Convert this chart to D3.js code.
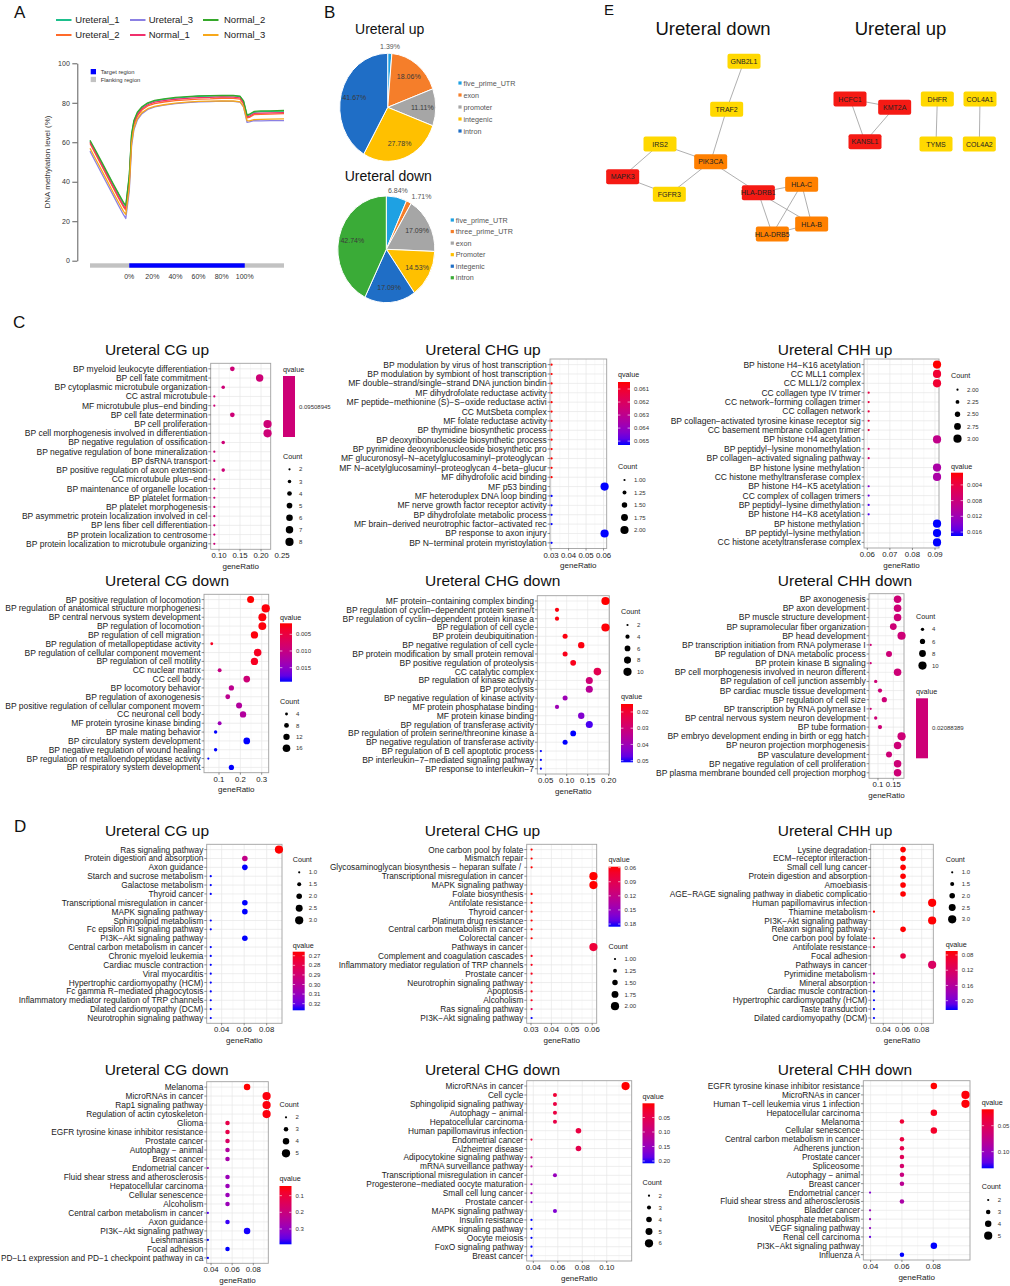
<!DOCTYPE html>
<html lang="en">
<head>
<meta charset="UTF-8">
<title>Methylation figure</title>
<style>
  html, body { margin: 0; padding: 0; background: #fff; }
  svg { display: block; }
</style>
</head>
<body>
<svg id="fig" width="1010" height="1286"></svg>
<script src="https://d3js.org/d3.v7.min.js"></script>
<script>
// ---------- panel A: methylation profile ----------
const binPos = [-34,-29,-24,-19,-14,-9,-5,-3,0,2,4,7,11,16,22,30,40,50,60,70,80,90,96,99,102,104,108,114,122,134];
const ureteral1 = [60.5,55.2,49.6,44.1,38.6,33.2,29.0,27.4,42.5,63.5,70.5,74.8,77.6,79.6,80.9,81.7,82.4,82.9,83.3,83.4,83.6,83.5,83.1,80.6,73.4,73.9,75.2,75.5,75.6,75.8];
const ureteral2 = [59.4,53.8,48.2,42.6,37.0,31.4,27.2,25.6,39.8,61.3,68.9,73.3,76.3,78.4,79.6,80.4,81.1,81.5,81.9,82.0,82.3,82.2,81.8,79.3,72.3,72.6,74.0,74.2,74.3,74.5];
const ureteral3 = [55.5,49.9,44.3,38.7,33.2,27.6,23.3,21.4,35.2,58.2,66.3,71.3,74.5,76.6,77.9,78.8,79.6,80.1,80.5,80.6,80.8,80.7,80.4,77.8,70.1,70.3,70.9,70.8,71.0,71.0];
const normal1 = [60.0,54.4,48.8,43.2,37.6,32.1,27.9,26.3,40.8,62.3,69.6,74.0,77.0,79.0,80.3,81.1,81.8,82.2,82.6,82.7,83.0,82.9,82.5,80.0,72.8,73.2,74.6,74.8,74.9,75.0];
const normal2 = [61.0,55.7,50.2,44.6,39.1,33.7,29.6,28.0,43.2,64.2,71.0,75.2,78.0,80.0,81.2,82.0,82.7,83.1,83.5,83.6,83.8,83.7,83.3,80.9,73.8,74.2,75.6,75.9,75.9,76.1];
const normal3 = [57.0,51.4,45.9,40.3,34.7,29.2,25.0,23.5,37.2,59.6,67.2,72.0,75.0,77.0,78.2,79.0,79.8,80.3,80.7,80.8,81.0,80.9,80.5,78.0,71.0,70.8,71.5,71.6,71.7,71.8];
const methNames = ["Ureteral_1","Ureteral_2","Ureteral_3","Normal_1","Normal_2","Normal_3"];
const methColors = ["#1dbf8c","#ff6a2a","#8b80e3","#f0306c","#35a82a","#f7a81b"];
const methYTicks = [0,20,40,60,80,100];
const methXTicks = [0,20,40,60,80,100];

// ---------- panel B: pies ----------
const upParts = ["five_prime_UTR","exon","promoter","integenic","intron"];
const upPct = [1.39,18.06,11.11,27.78,41.67];
const downParts = ["five_prime_UTR","three_prime_UTR","exon","Promoter","integenic","intron"];
const downPct = [6.84,1.71,17.09,14.53,17.09,42.74];
const pieColors = ["#1ea1e3","#f57e2a","#a6a6a6","#ffc000","#1f6ec6","#3aab37"];

// ---------- panel E: network ----------
const nodeNames = ["GNB2L1","TRAF2","IRS2","PIK3CA","MAPK3","FGFR3","HLA-DRB1","HLA-C","HLA-B","HLA-DRB5","HCFC1","KMT2A","KANSL1","DHFR","TYMS","COL4A1","COL4A2"];
const nodeLayoutX = [492,440,240,392,128,268,535,665,695,577,810,944,855,1072,1068,1200,1198];
const nodeLayoutY = [184,328,432,485,530,583,578,553,672,702,297,322,425,297,432,297,432];
const nodeLevel = ["low","low","low","mid","high","low","high","mid","mid","mid","high","high","high","low","low","low","low"];
const edgeFrom = ["GNB2L1","TRAF2","IRS2","IRS2","MAPK3","FGFR3","PIK3CA","HLA-DRB1","HLA-DRB1","HLA-DRB1","HLA-C","HLA-C","HLA-B","HCFC1","HCFC1","KMT2A","DHFR","COL4A1"];
const edgeTo = ["TRAF2","PIK3CA","PIK3CA","MAPK3","FGFR3","PIK3CA","HLA-DRB1","HLA-C","HLA-B","HLA-DRB5","HLA-B","HLA-DRB5","HLA-DRB5","KMT2A","KANSL1","KANSL1","TYMS","COL4A2"];
const levelColor = { high: "#f51a14", mid: "#ff8000", low: "#ffd800" };

// ---------- panel C: GO enrichment ----------
const cgUpGoTerms = ["BP myeloid leukocyte differentiation","BP cell fate commitment","BP cytoplasmic microtubule organization","CC astral microtubule","MF microtubule plus−end binding","BP cell fate determination","BP cell proliferation","BP cell morphogenesis involved in differentiation","BP negative regulation of ossification","BP negative regulation of bone mineralization","BP dsRNA transport","BP positive regulation of axon extension","CC microtubule plus−end","BP maintenance of organelle location","BP platelet formation","BP platelet morphogenesis","BP asymmetric protein localization involved in cel","BP lens fiber cell differentiation","BP protein localization to centrosome","BP protein localization to microtubule organizing"];
const cgUpGoRatio = [0.1317,0.1967,0.110,0.0888,0.0888,0.1317,0.2155,0.2155,0.110,0.0888,0.0888,0.110,0.0888,0.0888,0.0888,0.0888,0.0888,0.0888,0.0888,0.0888];
const cgUpGoCount = [4,7,3,2,2,4,8,8,3,2,2,3,2,2,2,2,2,2,2,2];
const cgUpGoQ = [0.09508945,0.09508945,0.09508945,0.09508945,0.09508945,0.09508945,0.09508945,0.09508945,0.09508945,0.09508945,0.09508945,0.09508945,0.09508945,0.09508945,0.09508945,0.09508945,0.09508945,0.09508945,0.09508945,0.09508945];

const chgUpGoTerms = ["BP modulation by virus of host transcription","BP modulation by symbiont of host transcription","MF double−strand/single−strand DNA junction bindin","MF dihydrofolate reductase activity","MF peptide−methionine (S)−S−oxide reductase activi","CC MutSbeta complex","MF folate reductase activity","BP thymidine biosynthetic process","BP deoxyribonucleoside biosynthetic process","BP pyrimidine deoxyribonucleoside biosynthetic pro","MF glucuronosyl−N−acetylglucosaminyl−proteoglycan ","MF N−acetylglucosaminyl−proteoglycan 4−beta−glucur","MF dihydrofolic acid binding","MF p53 binding","MF heteroduplex DNA loop binding","MF nerve growth factor receptor activity","BP dihydrofolate metabolic process","MF brain−derived neurotrophic factor−activated rec","BP response to axon injury","BP N−terminal protein myristoylation"];
const chgUpGoRatio = [0.0303,0.0303,0.0303,0.0303,0.0303,0.0303,0.0303,0.0303,0.0303,0.0303,0.0303,0.0303,0.0303,0.0606,0.0303,0.0303,0.0303,0.0303,0.0606,0.0303];
const chgUpGoCount = [1,1,1,1,1,1,1,1,1,1,1,1,1,2,1,1,1,1,2,1];
const chgUpGoQ = [0.06046,0.06046,0.06046,0.06046,0.06046,0.06046,0.06046,0.06046,0.06046,0.06046,0.06046,0.06046,0.06046,0.0653,0.0653,0.0653,0.0653,0.0653,0.0653,0.0653];

const chhUpGoTerms = ["BP histone H4−K16 acetylation","CC MLL1 complex","CC MLL1/2 complex","CC collagen type IV trimer","CC network−forming collagen trimer","CC collagen network","BP collagen−activated tyrosine kinase receptor sig","CC basement membrane collagen trimer","BP histone H4 acetylation","BP peptidyl−lysine monomethylation","BP collagen−activated signaling pathway","BP histone lysine methylation","CC histone methyltransferase complex","BP histone H4−K5 acetylation","CC complex of collagen trimers","BP peptidyl−lysine dimethylation","BP histone H4−K8 acetylation","BP histone methylation","BP peptidyl−lysine methylation","CC histone acetyltransferase complex"];
const chhUpGoRatio = [0.0909,0.0909,0.0909,0.0606,0.0606,0.0606,0.0606,0.0606,0.0909,0.0606,0.0606,0.0909,0.0909,0.0606,0.0606,0.0606,0.0606,0.0909,0.0909,0.0909];
const chhUpGoCount = [3,3,3,2,2,2,2,2,3,2,2,3,3,2,2,2,2,3,3,3];
const chhUpGoQ = [0.0009,0.003,0.003,0.004,0.004,0.004,0.004,0.004,0.009,0.007,0.007,0.011,0.011,0.014,0.015,0.016,0.016,0.017,0.017,0.017];

const cgDownGoTerms = ["BP positive regulation of locomotion","BP regulation of anatomical structure morphogenesi","BP central nervous system development","BP regulation of locomotion","BP regulation of cell migration","BP regulation of metallopeptidase activity","BP regulation of cellular component movement","BP regulation of cell motility","CC nuclear matrix","CC cell body","BP locomotory behavior","BP regulation of axonogenesis","BP positive regulation of cellular component movem","CC neuronal cell body","MF protein tyrosine kinase binding","BP male mating behavior","BP circulatory system development","BP negative regulation of wound healing","BP regulation of metalloendopeptidase activity","BP respiratory system development"];
const cgDownGoRatio = [0.248,0.319,0.303,0.303,0.266,0.066,0.281,0.266,0.103,0.230,0.158,0.141,0.194,0.2125,0.103,0.084,0.230,0.084,0.050,0.158];
const cgDownGoCount = [14,18,17,17,15,4,16,15,6,13,9,8,11,12,6,5,13,5,3,9];
const cgDownGoQ = [0.0017,0.002,0.002,0.002,0.002,0.003,0.003,0.003,0.010,0.009,0.011,0.011,0.012,0.012,0.014,0.0192,0.0192,0.0192,0.0192,0.0192];

const chgDownGoTerms = ["MF protein−containing complex binding","BP regulation of cyclin−dependent protein serine/t","BP regulation of cyclin−dependent protein kinase a","BP regulation of cell cycle","BP protein deubiquitination","BP negative regulation of cell cycle","BP protein modification by small protein removal","BP positive regulation of proteolysis","CC catalytic complex","BP regulation of kinase activity","BP proteolysis","BP negative regulation of kinase activity","MF protein phosphatase binding","MF protein kinase binding","BP regulation of transferase activity","BP regulation of protein serine/threonine kinase a","BP negative regulation of transferase activity","BP regulation of B cell apoptotic process","BP interleukin−7−mediated signaling pathway","BP response to interleukin−7"];
const chgDownGoRatio = [0.1923,0.0769,0.0769,0.1923,0.0962,0.1346,0.0962,0.1154,0.1731,0.1538,0.1538,0.0962,0.0769,0.1346,0.1538,0.1154,0.0962,0.0385,0.0385,0.0385];
const chgDownGoCount = [10,4,4,10,5,7,5,6,9,8,8,5,4,7,8,6,5,2,2,2];
const chgDownGoQ = [0.0151,0.016,0.016,0.0155,0.016,0.016,0.017,0.017,0.024,0.030,0.035,0.040,0.040,0.044,0.049,0.051,0.051,0.051,0.051,0.051];

const chhDownGoTerms = ["BP axonogenesis","BP axon development","BP muscle structure development","BP supramolecular fiber organization","BP head development","BP transcription initiation from RNA polymerase I","BP regulation of DNA metabolic process","BP protein kinase B signaling","BP cell morphogenesis involved in neuron different","BP regulation of cell junction assembly","BP cardiac muscle tissue development","BP regulation of cell size","BP transcription by RNA polymerase I","BP central nervous system neuron development","BP tube formation","BP embryo development ending in birth or egg hatch","BP neuron projection morphogenesis","BP vasculature development","BP negative regulation of cell proliferation","BP plasma membrane bounded cell projection morphog"];
const chhDownGoRatio = [0.164,0.164,0.164,0.150,0.177,0.0761,0.136,0.0761,0.164,0.0925,0.1065,0.1207,0.0761,0.0925,0.1065,0.177,0.164,0.136,0.164,0.164];
const chhDownGoCount = [9,9,9,8,10,3,7,3,9,4,5,6,3,4,5,10,9,7,9,9];
const chhDownGoQ = [0.02088389,0.02088389,0.02088389,0.02088389,0.02088389,0.02088389,0.02088389,0.02088389,0.02088389,0.02088389,0.02088389,0.02088389,0.02088389,0.02088389,0.02088389,0.02088389,0.02088389,0.02088389,0.02088389,0.02088389];

// ---------- panel D: KEGG enrichment ----------
const cgUpKeggTerms = ["Ras signaling pathway","Protein digestion and absorption","Axon guidance","Starch and sucrose metabolism","Galactose metabolism","Thyroid cancer","Transcriptional misregulation in cancer","MAPK signaling pathway","Sphingolipid metabolism","Fc epsilon RI signaling pathway","PI3K−Akt signaling pathway","Central carbon metabolism in cancer","Chronic myeloid leukemia","Cardiac muscle contraction","Viral myocarditis","Hypertrophic cardiomyopathy (HCM)","Fc gamma R−mediated phagocytosis","Inflammatory mediator regulation of TRP channels","Dilated cardiomyopathy (DCM)","Neurotrophin signaling pathway"];
const cgUpKeggRatio = [0.0909,0.0606,0.0606,0.0303,0.0303,0.0303,0.0606,0.0606,0.0303,0.0303,0.0606,0.0303,0.0303,0.0303,0.0303,0.0303,0.0303,0.0303,0.0303,0.0303];
const cgUpKeggCount = [3,2,2,1,1,1,2,2,1,1,2,1,1,1,1,1,1,1,1,1];
const cgUpKeggQ = [0.2658,0.296,0.3269,0.3269,0.3269,0.3269,0.3269,0.3269,0.3269,0.3269,0.3269,0.3269,0.3269,0.3269,0.3269,0.3269,0.3269,0.3269,0.3269,0.3269];

const chgUpKeggTerms = ["One carbon pool by folate","Mismatch repair","Glycosaminoglycan biosynthesis − heparan sulfate / ","Transcriptional misregulation in cancer","MAPK signaling pathway","Folate biosynthesis","Antifolate resistance","Thyroid cancer","Platinum drug resistance","Central carbon metabolism in cancer","Colorectal cancer","Pathways in cancer","Complement and coagulation cascades","Inflammatory mediator regulation of TRP channels","Prostate cancer","Neurotrophin signaling pathway","Apoptosis","Alcoholism","Ras signaling pathway","PI3K−Akt signaling pathway"];
const chgUpKeggRatio = [0.0303,0.0303,0.0303,0.0606,0.0606,0.0303,0.0303,0.0303,0.0303,0.0303,0.0303,0.0606,0.0303,0.0303,0.0303,0.0303,0.0303,0.0303,0.0303,0.0303];
const chgUpKeggCount = [1,1,1,2,2,1,1,1,1,1,1,2,1,1,1,1,1,1,1,1];
const chgUpKeggQ = [0.058,0.058,0.058,0.058,0.058,0.058,0.058,0.058,0.058,0.058,0.058,0.078,0.065,0.065,0.065,0.065,0.065,0.065,0.092,0.1857];

const chhUpKeggTerms = ["Lysine degradation","ECM−receptor interaction","Small cell lung cancer","Protein digestion and absorption","Amoebiasis","AGE−RAGE signaling pathway in diabetic complicatio","Human papillomavirus infection","Thiamine metabolism","PI3K−Akt signaling pathway","Relaxin signaling pathway","One carbon pool by folate","Antifolate resistance","Focal adhesion","Pathways in cancer","Pyrimidine metabolism","Mineral absorption","Cardiac muscle contraction","Hypertrophic cardiomyopathy (HCM)","Taste transduction","Dilated cardiomyopathy (DCM)"];
const chhUpKeggRatio = [0.0606,0.0606,0.0606,0.0606,0.0606,0.0606,0.0909,0.0303,0.0909,0.0606,0.0303,0.0303,0.0606,0.0909,0.0303,0.0303,0.0303,0.0303,0.0303,0.0303];
const chhUpKeggCount = [2,2,2,2,2,2,3,1,3,2,1,1,2,3,1,1,1,1,1,1];
const chhUpKeggQ = [0.0695,0.07,0.07,0.07,0.07,0.07,0.07,0.07,0.07,0.07,0.09,0.10,0.10,0.12,0.15,0.175,0.2245,0.2245,0.2245,0.2245];

const cgDownKeggTerms = ["Melanoma","MicroRNAs in cancer","Rap1 signaling pathway","Regulation of actin cytoskeleton","Glioma","EGFR tyrosine kinase inhibitor resistance","Prostate cancer","Autophagy − animal","Breast cancer","Endometrial cancer","Fluid shear stress and atherosclerosis","Hepatocellular carcinoma","Cellular senescence","Alcoholism","Central carbon metabolism in cancer","Axon guidance","PI3K−Akt signaling pathway","Leishmaniasis","Focal adhesion","PD−L1 expression and PD−1 checkpoint pathway in ca"];
const cgDownKeggRatio = [0.0741,0.0926,0.0926,0.0926,0.0556,0.0556,0.0556,0.0556,0.0556,0.0370,0.0556,0.0556,0.0556,0.0556,0.0370,0.0556,0.0741,0.0370,0.0556,0.0370];
const cgDownKeggCount = [4,5,5,5,3,3,3,3,3,2,3,3,3,3,2,3,4,2,3,2];
const cgDownKeggQ = [0.042,0.05,0.05,0.05,0.12,0.12,0.16,0.25,0.27,0.28,0.29,0.29,0.29,0.29,0.37,0.38,0.39,0.392,0.392,0.392];

const chgDownKeggTerms = ["MicroRNAs in cancer","Cell cycle","Sphingolipid signaling pathway","Autophagy − animal","Hepatocellular carcinoma","Human papillomavirus infection","Endometrial cancer","Alzheimer disease","Adipocytokine signaling pathway","mRNA surveillance pathway","Transcriptional misregulation in cancer","Progesterone−mediated oocyte maturation","Small cell lung cancer","Prostate cancer","MAPK signaling pathway","Insulin resistance","AMPK signaling pathway","Oocyte meiosis","FoxO signaling pathway","Breast cancer"];
const chgDownKeggRatio = [0.1154,0.0577,0.0577,0.0577,0.0577,0.0769,0.0385,0.0769,0.0385,0.0385,0.0577,0.0385,0.0385,0.0385,0.0577,0.0385,0.0385,0.0385,0.0385,0.0385];
const chgDownKeggCount = [6,3,3,3,3,4,2,4,2,2,3,2,2,2,3,2,2,2,2,2];
const chgDownKeggQ = [0.001,0.03,0.04,0.04,0.045,0.04,0.045,0.05,0.10,0.12,0.15,0.14,0.14,0.17,0.17,0.208,0.208,0.208,0.208,0.208];

const chhDownKeggTerms = ["EGFR tyrosine kinase inhibitor resistance","MicroRNAs in cancer","Human T−cell leukemia virus 1 infection","Hepatocellular carcinoma","Melanoma","Cellular senescence","Central carbon metabolism in cancer","Adherens junction","Prostate cancer","Spliceosome","Autophagy − animal","Breast cancer","Endometrial cancer","Fluid shear stress and atherosclerosis","Bladder cancer","Inositol phosphate metabolism","VEGF signaling pathway","Renal cell carcinoma","PI3K−Akt signaling pathway","Influenza A"];
const chhDownKeggRatio = [0.0804,0.1006,0.1006,0.0804,0.0600,0.0804,0.0600,0.0600,0.0600,0.0600,0.0600,0.0600,0.0396,0.0600,0.0396,0.0396,0.0396,0.0396,0.0804,0.0600];
const chhDownKeggCount = [4,5,5,4,3,4,3,3,3,3,3,3,2,3,2,2,2,2,4,3];
const chhDownKeggQ = [0.0185,0.02,0.02,0.025,0.035,0.03,0.04,0.045,0.05,0.06,0.07,0.08,0.11,0.09,0.10,0.10,0.105,0.12,0.132,0.132];

// ---------- setup ----------
const FONT = '"Liberation Sans", Arial, Helvetica, sans-serif';
const svg = d3.select("#fig").attr("font-family", FONT);
const redBlue = d3.interpolateLab("#ff0000", "#0000ff");

function label(g, x, y, s, size, anchor, fill) {
  return g.append("text").attr("x", x).attr("y", y)
    .attr("font-size", size).attr("text-anchor", anchor || "start")
    .attr("fill", fill || "#111").text(s);
}

// panel letters
[["A", 14, 18], ["B", 324, 18], ["C", 13, 328], ["D", 14, 832], ["E", 604, 15]].forEach(d => {
  label(svg, d[1], d[2], d[0], d[0] === "E" ? 15 : 17);
});

// ---------- A ----------
(function drawA() {
  const g = svg.append("g");
  const x = d3.scaleLinear().domain([-34, 134]).range([90, 284]);
  const y = d3.scaleLinear().domain([0, 100]).range([260.7, 63.3]);

  const yAxis = g.append("g").attr("transform", "translate(77.3,0)")
    .call(d3.axisLeft(y).tickValues(methYTicks).tickSize(5).tickSizeOuter(0).tickPadding(2.5));
  yAxis.select(".domain").attr("stroke", "#333").attr("stroke-width", 0.8);
  yAxis.selectAll(".tick line").attr("stroke", "#333").attr("stroke-width", 0.8);
  yAxis.selectAll("text").attr("font-size", 7).attr("font-family", FONT).attr("fill", "#333");

  g.append("text").attr("transform", "translate(50,162) rotate(-90)")
    .attr("text-anchor", "middle").attr("font-size", 8).attr("fill", "#333")
    .text("DNA methylation level (%)");

  // region bar
  g.append("rect").attr("x", x(-34)).attr("y", 263.3).attr("width", x(134) - x(-34)).attr("height", 4.4).attr("fill", "#c2c2c2");
  g.append("rect").attr("x", x(0)).attr("y", 263.3).attr("width", x(100) - x(0)).attr("height", 4.4).attr("fill", "#0000ff");
  methXTicks.forEach(t => label(g, x(t), 278.5, t + "%", 7, "middle", "#333"));

  // inner legend
  g.append("rect").attr("x", 90.7).attr("y", 69).attr("width", 5.3).attr("height", 5.3).attr("fill", "#0000ff");
  g.append("rect").attr("x", 90.7).attr("y", 76.8).attr("width", 5.3).attr("height", 5.3).attr("fill", "#c2c2c2");
  label(g, 100.7, 73.8, "Target region", 5.8, "start", "#333");
  label(g, 100.7, 81.5, "Flanking region", 5.8, "start", "#333");

  const line = d3.line().x((d, i) => x(binPos[i])).y(d => y(d));
  const series = [ureteral1, ureteral2, ureteral3, normal1, normal2, normal3];
  series.forEach((vals, k) => {
    g.append("path").attr("d", line(vals)).attr("fill", "none")
      .attr("stroke", methColors[k]).attr("stroke-width", 1.3).attr("stroke-linejoin", "round");
  });

  // top legend (column-major)
  const colSw = [56, 130, 203], colTx = [75.3, 148.7, 224], rowY = [20, 35];
  methNames.forEach((n, k) => {
    const c = Math.floor(k / 2), r = k % 2;
    g.append("line").attr("x1", colSw[c]).attr("x2", colSw[c] + 15.5).attr("y1", rowY[r]).attr("y2", rowY[r])
      .attr("stroke", methColors[k]).attr("stroke-width", 2);
    label(g, colTx[c], rowY[r] + 3.4, n, 9.5, "start", "#222");
  });
})();

// ---------- B ----------
function drawPie(parts, pct, cx, cy, r, sy, title, titleY, legX, legY0, legStep) {
  const g = svg.append("g");
  label(g, cx + 2, titleY, title, 14, "middle", "#111");
  const arcs = d3.pie().sort(null).value(d => d)(pct);
  const arc = d3.arc().innerRadius(0).outerRadius(r);
  const pg = g.append("g").attr("transform", `translate(${cx},${cy}) scale(1,${sy})`);
  pg.selectAll("path").data(arcs).join("path").attr("d", arc)
    .attr("fill", (d, i) => pieColors[i]).attr("stroke", "#fff").attr("stroke-width", 1)
    .attr("vector-effect", "non-scaling-stroke");
  arcs.forEach((a, i) => {
    const outside = pct[i] < 8;
    const rr = outside ? r * 1.12 : r * 0.72;
    const c = d3.arc().innerRadius(rr).outerRadius(rr).centroid(a);
    const anchor = outside && c[0] > 15 ? "start" : "middle";
    label(g, cx + c[0], cy + c[1] * sy + 2.4, pct[i].toFixed(2) + "%", 7, anchor, outside ? "#555" : "#3a3a3a");
  });
  parts.forEach((p, i) => {
    const yy = legY0 + i * legStep;
    g.append("rect").attr("x", legX - 1.6).attr("y", yy - 1.6).attr("width", 3.2).attr("height", 3.2).attr("fill", pieColors[i]);
    label(g, legX + 3.5, yy + 2.5, p, 7.2, "start", "#555");
  });
}
drawPie(upParts, upPct, 387.7, 107.3, 48, 1.125, "Ureteral up", 34, 460, 83, 12);
drawPie(downParts, downPct, 386.3, 249.3, 48.5, 1.1, "Ureteral down", 180.7, 452.3, 220, 11.55);

// ---------- E ----------
(function drawE() {
  const g = svg.append("g");
  const nx = d3.scaleLinear().domain([0, 1290]).range([580, 1010]);
  const ny = d3.scaleLinear().domain([0, 900]).range([0, 300]);
  label(g, 713, 35, "Ureteral down", 18.5, "middle", "#111");
  label(g, 900.5, 35, "Ureteral up", 18.5, "middle", "#111");
  const pos = {};
  nodeNames.forEach((n, i) => { pos[n] = [nx(nodeLayoutX[i]), ny(nodeLayoutY[i])]; });
  edgeFrom.forEach((s, i) => {
    const a = pos[s], b = pos[edgeTo[i]];
    g.append("line").attr("x1", a[0]).attr("y1", a[1]).attr("x2", b[0]).attr("y2", b[1])
      .attr("stroke", "#9a9a9a").attr("stroke-width", 0.8);
  });
  nodeNames.forEach((n, i) => {
    const p = pos[n];
    g.append("rect").attr("x", p[0] - 16.5).attr("y", p[1] - 7.5).attr("width", 33).attr("height", 15)
      .attr("rx", 2).attr("fill", levelColor[nodeLevel[i]]);
    label(g, p[0], p[1] + 2.5, n, 7, "middle", "#222");
  });
})();

// ---------- dot plots ----------
let gradId = 0;
function drawDot(p) {
  const g = svg.append("g");
  const [x0, y0, x1, y1] = p.box;
  const x = d3.scaleLinear().domain(p.xDom).range([x0, x1]);
  const y = d3.scalePoint().domain(d3.range(p.terms.length)).range([y0, y1]).padding(0.6);
  const qExt = d3.extent(p.q);
  const single = qExt[0] === qExt[1];
  const qt = d3.scaleLinear().domain(qExt).range([0, 1]);
  const color = v => redBlue(single ? 0.42 : qt(v));
  const size = d3.scaleSqrt().domain(d3.extent(p.count)).range([1.1, 4.1]);

  g.append("rect").attr("x", x0).attr("y", y0).attr("width", x1 - x0).attr("height", y1 - y0).attr("fill", "#fff");
  // minor grid
  const step = p.xTicks[1] - p.xTicks[0];
  const minors = [p.xTicks[0] - step / 2].concat(p.xTicks.map(t => t + step / 2));
  minors.filter(t => t > p.xDom[0] && t < p.xDom[1]).forEach(t => {
    g.append("line").attr("x1", x(t)).attr("x2", x(t)).attr("y1", y0).attr("y2", y1)
      .attr("stroke", "#f2f2f2").attr("stroke-width", 0.5);
  });
  p.xTicks.filter(t => t >= p.xDom[0] && t <= p.xDom[1]).forEach(t => {
    g.append("line").attr("x1", x(t)).attr("x2", x(t)).attr("y1", y0).attr("y2", y1)
      .attr("stroke", "#e6e6e6").attr("stroke-width", 0.7);
  });
  p.terms.forEach((t, i) => {
    g.append("line").attr("x1", x0).attr("x2", x1).attr("y1", y(i)).attr("y2", y(i))
      .attr("stroke", "#e6e6e6").attr("stroke-width", 0.7);
  });
  g.append("rect").attr("x", x0).attr("y", y0).attr("width", x1 - x0).attr("height", y1 - y0)
    .attr("fill", "none").attr("stroke", "#a0a0a0").attr("stroke-width", 0.9);

  p.terms.forEach((t, i) => {
    g.append("circle").attr("cx", x(p.ratio[i])).attr("cy", y(i)).attr("r", size(p.count[i]))
      .attr("fill", color(p.q[i]));
    g.append("line").attr("x1", x0 - 2.4).attr("x2", x0).attr("y1", y(i)).attr("y2", y(i))
      .attr("stroke", "#444").attr("stroke-width", 0.6);
    label(g, x0 - 3.3, y(i) + 3, t, p.fs, "end", "#1a1a1a").attr("xml:space", "preserve");
  });

  const fmt = d3.format(p.xFmt);
  p.xTicks.forEach(t => {
    if (t >= p.xDom[0] && t <= p.xDom[1]) {
      g.append("line").attr("x1", x(t)).attr("x2", x(t)).attr("y1", y1).attr("y2", y1 + 2)
        .attr("stroke", "#444").attr("stroke-width", 0.6);
    }
    label(g, x(t), y1 + 9, fmt(t), 7.8, "middle", "#1a1a1a");
  });
  label(g, (x0 + x1) / 2, y1 + 19.5, "geneRatio", 8, "middle", "#1a1a1a");
  label(g, p.tx, p.ty, p.title, 15.5, "middle", "#111");

  // qvalue legend
  const lx = p.lx;
  label(g, lx, p.qy + 2.5, "qvalue", 7.2, "start", "#222");
  const [b0, b1] = p.bar;
  if (single) {
    g.append("rect").attr("x", lx).attr("y", b0).attr("width", 12).attr("height", b1 - b0).attr("fill", redBlue(0.42));
    label(g, lx + 16, (b0 + b1) / 2 + 2.1, p.qLabel, 6, "start", "#333");
  } else {
    const id = "qgrad" + (gradId++);
    const grad = svg.append("defs").append("linearGradient").attr("id", id)
      .attr("x1", 0).attr("y1", 0).attr("x2", 0).attr("y2", 1);
    d3.range(0, 1.0001, 0.1).forEach(t => grad.append("stop").attr("offset", t).attr("stop-color", redBlue(t)));
    g.append("rect").attr("x", lx).attr("y", b0).attr("width", 12).attr("height", b1 - b0).attr("fill", `url(#${id})`);
    const qs = d3.scaleLinear().domain(qExt).range([b0, b1]);
    const qf = d3.format(p.qFmt);
    p.qTicks.forEach(t => {
      const yy = qs(t);
      g.append("line").attr("x1", lx).attr("x2", lx + 2.4).attr("y1", yy).attr("y2", yy).attr("stroke", "#fff").attr("stroke-width", 0.6);
      g.append("line").attr("x1", lx + 9.6).attr("x2", lx + 12).attr("y1", yy).attr("y2", yy).attr("stroke", "#fff").attr("stroke-width", 0.6);
      label(g, lx + 16, yy + 2.1, qf(t), 6, "start", "#333");
    });
  }
  // count legend
  label(g, lx, p.cy + 2.5, "Count", 7.2, "start", "#222");
  const cf = d3.format(p.cFmt);
  p.cTicks.forEach((c, i) => {
    const yy = p.c0 + i * p.cStep;
    g.append("circle").attr("cx", lx + 6.5).attr("cy", yy).attr("r", size(c)).attr("fill", "#000");
    label(g, lx + 16, yy + 2.1, cf(c), 6, "start", "#333");
  });
}

const dotPanels = [
  { title: "Ureteral CG up", tx: 157, ty: 355, terms: cgUpGoTerms, ratio: cgUpGoRatio, count: cgUpGoCount, q: cgUpGoQ, fs: 8.5,
    box: [210.7, 363.3, 270.7, 549.3], xDom: [0.0802, 0.223], xTicks: [0.10, 0.15, 0.20, 0.25], xFmt: ".2f",
    lx: 283, qy: 369, bar: [376, 437], qLabel: "0.09508945",
    cy: 456, c0: 469.3, cStep: 12.1, cTicks: [2, 3, 4, 5, 6, 7, 8], cFmt: "d" },
  { title: "Ureteral CHG up", tx: 483, ty: 355, terms: chgUpGoTerms, ratio: chgUpGoRatio, count: chgUpGoCount, q: chgUpGoQ, fs: 8.5,
    box: [550, 359, 606.7, 548.5], xDom: [0.0294, 0.0618], xTicks: [0.03, 0.04, 0.05, 0.06], xFmt: ".2f",
    lx: 618, qy: 374, bar: [382, 445], qTicks: [0.061, 0.062, 0.063, 0.064, 0.065], qFmt: ".3f",
    cy: 466, c0: 480, cStep: 12.5, cTicks: [1, 1.25, 1.5, 1.75, 2], cFmt: ".2f" },
  { title: "Ureteral CHH up", tx: 835, ty: 355, terms: chhUpGoTerms, ratio: chhUpGoRatio, count: chhUpGoCount, q: chhUpGoQ, fs: 8.5,
    box: [864, 359, 939, 548], xDom: [0.05854, 0.09177], xTicks: [0.06, 0.07, 0.08, 0.09], xFmt: ".2f",
    lx: 951, qy: 466, bar: [472.7, 536], qTicks: [0.004, 0.008, 0.012, 0.016], qFmt: ".3f",
    cy: 375.7, c0: 389.7, cStep: 12.25, cTicks: [2, 2.25, 2.5, 2.75, 3], cFmt: ".2f" },
  { title: "Ureteral CG down", tx: 167, ty: 586, terms: cgDownGoTerms, ratio: cgDownGoRatio, count: cgDownGoCount, q: cgDownGoQ, fs: 8.5,
    box: [204, 594.3, 268.7, 772.7], xDom: [0.0297, 0.3328], xTicks: [0.1, 0.2, 0.3], xFmt: ".1f",
    lx: 280, qy: 617, bar: [623.3, 681.7], qTicks: [0.005, 0.010, 0.015], qFmt: ".3f",
    cy: 701, c0: 714, cStep: 11.4, cTicks: [4, 8, 12, 16], cFmt: "d" },
  { title: "Ureteral CHG down", tx: 492.7, ty: 586, terms: chgDownGoTerms, ratio: chgDownGoRatio, count: chgDownGoCount, q: chgDownGoQ, fs: 8.5,
    box: [537.3, 595.7, 609.3, 774], xDom: [0.03, 0.2014], xTicks: [0.05, 0.10, 0.15, 0.20], xFmt: ".2f",
    lx: 621, qy: 696.7, bar: [704, 762.3], qTicks: [0.02, 0.03, 0.04, 0.05], qFmt: ".2f",
    cy: 611.7, c0: 625, cStep: 11.7, cTicks: [2, 4, 6, 8, 10], cFmt: "d" },
  { title: "Ureteral CHH down", tx: 845, ty: 586, terms: chhDownGoTerms, ratio: chhDownGoRatio, count: chhDownGoCount, q: chhDownGoQ, fs: 8.5,
    box: [869, 593.7, 904, 778.3], xDom: [0.0706, 0.185], xTicks: [0.1, 0.15], xFmt: ".2~f",
    lx: 916, qy: 691, bar: [698.3, 758.3], qLabel: "0.02088389",
    cy: 616, c0: 629.3, cStep: 12.1, cTicks: [4, 6, 8, 10], cFmt: "d" },
  { title: "Ureteral CG up", tx: 157, ty: 836, terms: cgUpKeggTerms, ratio: cgUpKeggRatio, count: cgUpKeggCount, q: cgUpKeggQ, fs: 8.3,
    box: [206.7, 844.3, 282, 1023.3], xDom: [0.0267, 0.0936], xTicks: [0.04, 0.06, 0.08], xFmt: ".2f",
    lx: 292.7, qy: 945, bar: [951.7, 1010.3], qTicks: [0.27, 0.28, 0.29, 0.30, 0.31, 0.32], qFmt: ".2f",
    cy: 859.3, c0: 872.3, cStep: 12, cTicks: [1, 1.5, 2, 2.5, 3], cFmt: ".1f" },
  { title: "Ureteral CHG up", tx: 482.5, ty: 836, terms: chgUpKeggTerms, ratio: chgUpKeggRatio, count: chgUpKeggCount, q: chgUpKeggQ, fs: 8.3,
    box: [526.7, 844.3, 596.7, 1023.3], xDom: [0.0279, 0.0622], xTicks: [0.03, 0.04, 0.05, 0.06], xFmt: ".2f",
    lx: 608.5, qy: 859.3, bar: [866.7, 926.7], qTicks: [0.06, 0.09, 0.12, 0.15, 0.18], qFmt: ".2f",
    cy: 946, c0: 959, cStep: 11.8, cTicks: [1, 1.25, 1.5, 1.75, 2], cFmt: ".2f" },
  { title: "Ureteral CHH up", tx: 835, ty: 836, terms: chhUpKeggTerms, ratio: chhUpKeggRatio, count: chhUpKeggCount, q: chhUpKeggQ, fs: 8.3,
    box: [870.7, 844.3, 933.3, 1023.3], xDom: [0.0269, 0.0921], xTicks: [0.04, 0.06, 0.08], xFmt: ".2f",
    lx: 945.7, qy: 944, bar: [951, 1010], qTicks: [0.08, 0.12, 0.16, 0.20], qFmt: ".2f",
    cy: 859.3, c0: 872.3, cStep: 11.75, cTicks: [1, 1.5, 2, 2.5, 3], cFmt: ".1f" },
  { title: "Ureteral CG down", tx: 166.7, ty: 1075, terms: cgDownKeggTerms, ratio: cgDownKeggRatio, count: cgDownKeggCount, q: cgDownKeggQ, fs: 8.3,
    box: [206.7, 1081.7, 268.3, 1263.3], xDom: [0.0359, 0.0942], xTicks: [0.04, 0.06, 0.08], xFmt: ".2f",
    lx: 279.5, qy: 1178, bar: [1186, 1244.3], qTicks: [0.1, 0.2, 0.3], qFmt: ".1f",
    cy: 1104, c0: 1117.3, cStep: 12, cTicks: [2, 3, 4, 5], cFmt: "d" },
  { title: "Ureteral CHG down", tx: 492.5, ty: 1075, terms: chgDownKeggTerms, ratio: chgDownKeggRatio, count: chgDownKeggCount, q: chgDownKeggQ, fs: 8.3,
    box: [526.7, 1080.7, 631.7, 1261], xDom: [0.0346, 0.1204], xTicks: [0.04, 0.06, 0.08, 0.10], xFmt: ".2f",
    lx: 642.5, qy: 1096.7, bar: [1103.3, 1163.3], qTicks: [0.05, 0.10, 0.15, 0.20], qFmt: ".2f",
    cy: 1182.7, c0: 1195.7, cStep: 11.9, cTicks: [2, 3, 4, 5, 6], cFmt: "d" },
  { title: "Ureteral CHH down", tx: 845, ty: 1075, terms: chhDownKeggTerms, ratio: chhDownKeggRatio, count: chhDownKeggCount, q: chhDownKeggQ, fs: 8.3,
    box: [863.3, 1080.7, 970, 1260], xDom: [0.0353, 0.1035], xTicks: [0.04, 0.06, 0.08], xFmt: ".2f",
    lx: 981.7, qy: 1102.7, bar: [1109.3, 1168.3], qTicks: [0.05, 0.10], qFmt: ".2f",
    cy: 1186.7, c0: 1200, cStep: 11.9, cTicks: [2, 3, 4, 5], cFmt: "d" }
];
dotPanels.forEach(drawDot);
</script>
</body>
</html>
